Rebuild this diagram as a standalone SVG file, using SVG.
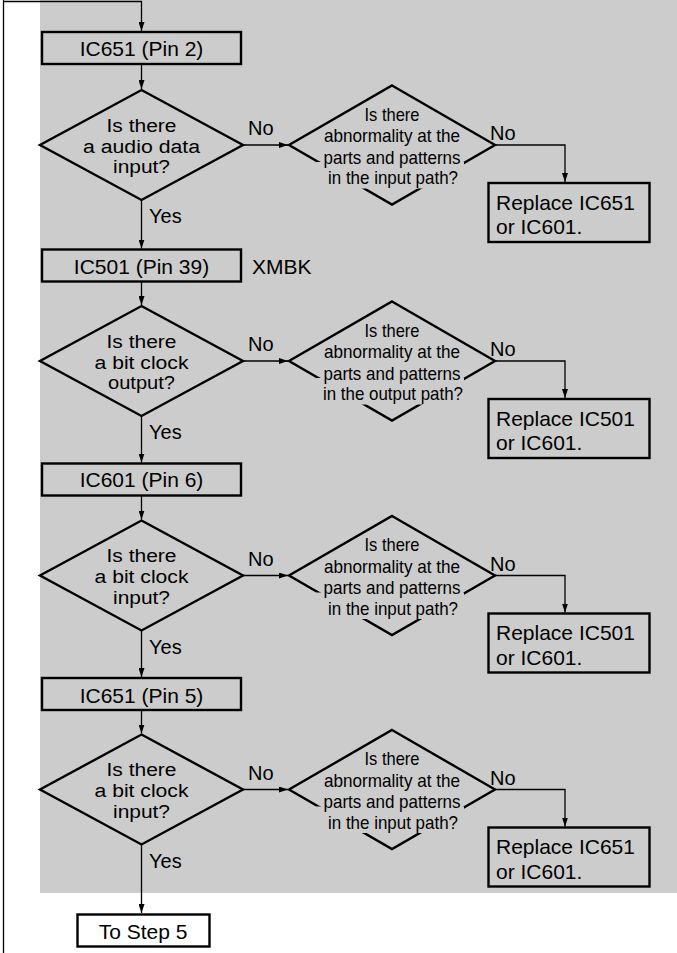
<svg xmlns="http://www.w3.org/2000/svg" width="677" height="953" viewBox="0 0 677 953">
<defs>
<style>
.box{fill:#cccccc;stroke:#000;stroke-width:2.4}
.dia{fill:#cccccc;stroke:#000;stroke-width:2.4;stroke-linejoin:miter}
.ln{fill:none;stroke:#000;stroke-width:1.3}
.cov{fill:#cccccc;stroke:none}
text{font-family:"Liberation Sans",Arial,Helvetica,sans-serif;fill:#000}
.t21{font-size:21px}
.tc{font-size:21px;text-anchor:middle}
.td{font-size:18px;text-anchor:middle}
.ts{font-size:18.5px;text-anchor:middle}
.lbl{font-size:20px}
</style>
<marker id="ah" markerWidth="10" markerHeight="6" refX="9" refY="3" orient="auto" markerUnits="userSpaceOnUse"><path d="M0,0 L9,3 L0,6 z" fill="#000"/></marker>
</defs>
<rect x="0" y="0" width="677" height="953" fill="#fff"/>
<rect x="40" y="0" width="637" height="893" fill="#cccccc"/>

<g id="connectors">
<path class="ln" d="M3.5,0 V953"/>
<path class="ln" d="M3.5,1.5 H141.5 V31" marker-end="url(#ah)"/>
<path class="ln" d="M141.5,64 V89" marker-end="url(#ah)"/>
<path class="ln" d="M141.5,200 V248.5" marker-end="url(#ah)"/>
<path class="ln" d="M141.5,281.5 V305" marker-end="url(#ah)"/>
<path class="ln" d="M141.5,416 V462.5" marker-end="url(#ah)"/>
<path class="ln" d="M141.5,495.5 V519.5" marker-end="url(#ah)"/>
<path class="ln" d="M141.5,630.5 V677" marker-end="url(#ah)"/>
<path class="ln" d="M141.5,710 V733.5" marker-end="url(#ah)"/>
<path class="ln" d="M141.5,844.5 V913" marker-end="url(#ah)"/>
<path class="ln" d="M243,145 H288" marker-end="url(#ah)"/>
<path class="ln" d="M243,361 H288" marker-end="url(#ah)"/>
<path class="ln" d="M243,575.5 H288" marker-end="url(#ah)"/>
<path class="ln" d="M243,789.5 H288" marker-end="url(#ah)"/>
<path class="ln" d="M495,145 H565 V182" marker-end="url(#ah)"/>
<path class="ln" d="M495,361 H565 V398" marker-end="url(#ah)"/>
<path class="ln" d="M495,575.5 H565 V612.5" marker-end="url(#ah)"/>
<path class="ln" d="M495,789.5 H565 V826.5" marker-end="url(#ah)"/>
<text class="lbl" x="248" y="135">No</text>
<text class="lbl" x="490" y="140">No</text>
<text class="lbl" x="149" y="223">Yes</text>
<text class="lbl" x="248" y="351">No</text>
<text class="lbl" x="490" y="356">No</text>
<text class="lbl" x="149" y="439">Yes</text>
<text class="lbl" x="248" y="565.5">No</text>
<text class="lbl" x="490" y="570.5">No</text>
<text class="lbl" x="149" y="653.5">Yes</text>
<text class="lbl" x="248" y="779.5">No</text>
<text class="lbl" x="490" y="784.5">No</text>
<text class="lbl" x="149" y="867.5">Yes</text>
</g>

<g id="box1">
<rect class="box" x="42" y="32" width="199" height="32"/>
<text class="tc" x="141.5" y="55.5">IC651 (Pin 2)</text>
</g>
<g id="dec1">
<polygon class="dia" points="141.5,90 243,145 141.5,200 40,145"/>
<text class="td" x="141.5" y="131.5" textLength="70" lengthAdjust="spacingAndGlyphs">Is there</text>
<text class="td" x="141.5" y="152.5" textLength="117" lengthAdjust="spacingAndGlyphs">a audio data</text>
<text class="td" x="141.5" y="173" textLength="57" lengthAdjust="spacingAndGlyphs">input?</text>
</g>
<g id="chk1">
<polygon class="dia" points="392,85.5 495,145 392,204.5 289,145"/>
<rect class="cov" x="316" y="162" width="148" height="26.5"/>
<text class="ts" x="392" y="120.5" textLength="55" lengthAdjust="spacingAndGlyphs">Is there</text>
<text class="ts" x="392" y="142" textLength="136" lengthAdjust="spacingAndGlyphs">abnormality at the</text>
<text class="ts" x="392" y="163.5" textLength="137" lengthAdjust="spacingAndGlyphs">parts and patterns</text>
<text class="ts" x="393" y="184" textLength="130" lengthAdjust="spacingAndGlyphs">in the input path?</text>
</g>
<g id="rep1">
<rect class="box" x="488.5" y="183" width="161" height="59"/>
<text class="t21" x="496" y="209.5">Replace IC651</text>
<text class="t21" x="496" y="234">or IC601.</text>
</g>

<g id="box2">
<rect class="box" x="42" y="249.5" width="199" height="32"/>
<text class="tc" x="141.5" y="273.5">IC501 (Pin 39)</text>
<text class="t21" x="252" y="273.5">XMBK</text>
</g>
<g id="dec2">
<polygon class="dia" points="141.5,306 243,361 141.5,416 40,361"/>
<text class="td" x="141.5" y="347.5" textLength="70" lengthAdjust="spacingAndGlyphs">Is there</text>
<text class="td" x="141.5" y="368.5" textLength="94" lengthAdjust="spacingAndGlyphs">a bit clock</text>
<text class="td" x="141.5" y="389" textLength="67" lengthAdjust="spacingAndGlyphs">output?</text>
</g>
<g id="chk2">
<polygon class="dia" points="392,301.5 495,361 392,420.5 289,361"/>
<rect class="cov" x="316" y="378" width="148" height="26.5"/>
<text class="ts" x="392" y="336.5" textLength="55" lengthAdjust="spacingAndGlyphs">Is there</text>
<text class="ts" x="392" y="358" textLength="136" lengthAdjust="spacingAndGlyphs">abnormality at the</text>
<text class="ts" x="392" y="379.5" textLength="137" lengthAdjust="spacingAndGlyphs">parts and patterns</text>
<text class="ts" x="393" y="400" textLength="140" lengthAdjust="spacingAndGlyphs">in the output path?</text>
</g>
<g id="rep2">
<rect class="box" x="488.5" y="399" width="161" height="59"/>
<text class="t21" x="496" y="425.5">Replace IC501</text>
<text class="t21" x="496" y="450">or IC601.</text>
</g>

<g id="box3">
<rect class="box" x="42" y="463.5" width="199" height="32"/>
<text class="tc" x="141.5" y="487">IC601 (Pin 6)</text>
</g>
<g id="dec3">
<polygon class="dia" points="141.5,520.5 243,575.5 141.5,630.5 40,575.5"/>
<text class="td" x="141.5" y="562" textLength="70" lengthAdjust="spacingAndGlyphs">Is there</text>
<text class="td" x="141.5" y="583" textLength="94" lengthAdjust="spacingAndGlyphs">a bit clock</text>
<text class="td" x="141.5" y="603.5" textLength="57" lengthAdjust="spacingAndGlyphs">input?</text>
</g>
<g id="chk3">
<polygon class="dia" points="392,516 495,575.5 392,635 289,575.5"/>
<rect class="cov" x="316" y="592.5" width="148" height="26.5"/>
<text class="ts" x="392" y="551" textLength="55" lengthAdjust="spacingAndGlyphs">Is there</text>
<text class="ts" x="392" y="572.5" textLength="136" lengthAdjust="spacingAndGlyphs">abnormality at the</text>
<text class="ts" x="392" y="594" textLength="137" lengthAdjust="spacingAndGlyphs">parts and patterns</text>
<text class="ts" x="393" y="614.5" textLength="130" lengthAdjust="spacingAndGlyphs">in the input path?</text>
</g>
<g id="rep3">
<rect class="box" x="488.5" y="613.5" width="161" height="59"/>
<text class="t21" x="496" y="640">Replace IC501</text>
<text class="t21" x="496" y="664.5">or IC601.</text>
</g>

<g id="box4">
<rect class="box" x="42" y="678" width="199" height="32"/>
<text class="tc" x="141.5" y="702.5">IC651 (Pin 5)</text>
</g>
<g id="dec4">
<polygon class="dia" points="141.5,734.5 243,789.5 141.5,844.5 40,789.5"/>
<text class="td" x="141.5" y="776" textLength="70" lengthAdjust="spacingAndGlyphs">Is there</text>
<text class="td" x="141.5" y="797" textLength="94" lengthAdjust="spacingAndGlyphs">a bit clock</text>
<text class="td" x="141.5" y="817.5" textLength="57" lengthAdjust="spacingAndGlyphs">input?</text>
</g>
<g id="chk4">
<polygon class="dia" points="392,730 495,789.5 392,849 289,789.5"/>
<rect class="cov" x="316" y="806.5" width="148" height="26.5"/>
<text class="ts" x="392" y="765" textLength="55" lengthAdjust="spacingAndGlyphs">Is there</text>
<text class="ts" x="392" y="786.5" textLength="136" lengthAdjust="spacingAndGlyphs">abnormality at the</text>
<text class="ts" x="392" y="808" textLength="137" lengthAdjust="spacingAndGlyphs">parts and patterns</text>
<text class="ts" x="393" y="828.5" textLength="130" lengthAdjust="spacingAndGlyphs">in the input path?</text>
</g>
<g id="rep4">
<rect class="box" x="488.5" y="827.5" width="161" height="59"/>
<text class="t21" x="496" y="854">Replace IC651</text>
<text class="t21" x="496" y="878.5">or IC601.</text>
</g>

<g id="end">
<rect class="box" x="77.5" y="914.5" width="132" height="32" style="fill:#fff"/>
<text class="tc" x="143" y="938.5">To Step 5</text>
</g>
</svg>
